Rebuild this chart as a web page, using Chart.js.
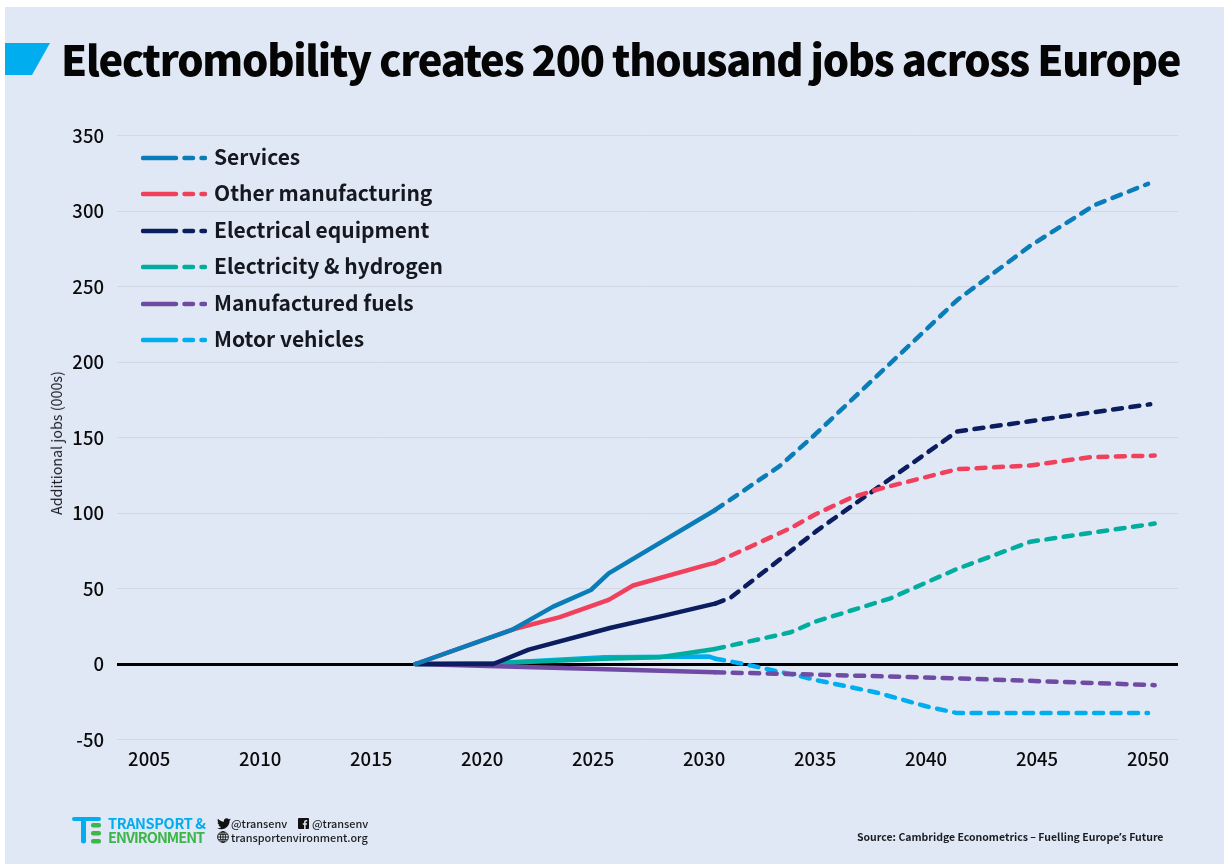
<!DOCTYPE html>
<html>
<head>
<meta charset="utf-8">
<title>Electromobility jobs</title>
<script src="https://cdn.jsdelivr.net/npm/chart.js@4"></script>
<style>
  html, body { margin: 0; padding: 0; background: #fff; }
  #page { position: relative; width: 1224px; height: 864px; overflow: hidden; font-family: "Noto Sans CJK SC", "Noto Sans", sans-serif; color: #0b0b0b; }
  #panel { position: absolute; left: 5px; top: 7px; right: 0; bottom: 0; background: #e1e8f5; }
  #jobs { position: absolute; left: 0; top: 0; }
  #flag { position: absolute; left: 5px; top: 43px; }
  h1 { position: absolute; left: 61px; top: 28px; margin: 0; font-size: 41.5px; line-height: 60px; font-weight: 900; letter-spacing: -1.25px; white-space: nowrap; color: #050505; }
  #legend { position: absolute; left: 141px; top: 139px; }
  .row { position: absolute; left: 0; height: 36px; width: 340px; }
  .row svg { position: absolute; left: 0; top: 16px; }
  .row span { position: absolute; left: 73px; top: -1px; font-size: 21px; line-height: 36px; font-weight: 700; color: #16181f; white-space: nowrap; }
  #ytitle { position: absolute; left: 56px; top: 443px; transform: translate(-50%, -50%) rotate(-90deg); font-size: 14.3px; line-height: 18px; color: #1a1c22; white-space: nowrap; }
  .foot { position: absolute; white-space: nowrap; }
  .social { font-size: 10.9px; line-height: 14px; font-weight: 500; color: #1a1c22; }
  .brand { font-size: 14.5px; line-height: 15px; font-weight: 700; letter-spacing: -.35px; }
</style>
</head>
<body>
<div id="page">
  <div id="panel"></div>
  <canvas id="jobs" width="1224" height="864"></canvas>
  <svg id="flag" width="46" height="32"><polygon points="0,0 45,0 27,32 0,32" fill="#00aeef"/></svg>
  <h1>Electromobility creates 200 thousand jobs across Europe</h1>
  <div id="legend"></div>
  <div id="ytitle">Additional jobs (000s)</div>

  <svg class="foot" style="left:72px;top:816px" width="30" height="30">
    <rect x="0" y="1" width="29" height="4" rx="2" fill="#00aeef"/>
    <rect x="9" y="1" width="5" height="26.500" rx="2.500" fill="#00aeef"/>
    <rect x="19" y="7" width="10" height="4.500" rx="2" fill="#3cb54a"/>
    <rect x="19" y="15" width="10" height="4.500" rx="2" fill="#3cb54a"/>
    <rect x="19" y="23" width="10" height="4.500" rx="2" fill="#3cb54a"/>
  </svg>
  <div class="foot brand" style="left:108px;top:815px;color:#00aeef">TRANSPORT &amp;</div>
  <div class="foot brand" style="left:108px;top:829px;color:#3cb54a;letter-spacing:-.95px">ENVIRONMENT</div>

  <svg class="foot" style="left:217px;top:818px" width="14" height="12" viewBox="0 0 24 20">
    <path fill="#111" d="M24 2.4c-.9.4-1.8.7-2.8.8 1-.6 1.8-1.6 2.2-2.7-1 .6-2 1-3.1 1.2C19.3.7 18 0 16.6 0c-2.7 0-4.9 2.2-4.9 4.9 0 .4 0 .8.1 1.1C7.700 5.800 4.100 3.900 1.700.9c-.4.700-.7 1.600-.7 2.500 0 1.700.9 3.200 2.200 4.100-.8 0-1.600-.2-2.200-.6v.1c0 2.400 1.700 4.400 3.900 4.800-.7.200-1.500.2-2.200.1.600 2 2.400 3.400 4.600 3.400-1.700 1.300-3.800 2.100-6.100 2.100-.4 0-.8 0-1.200-.1C2.200 18.200 4.800 19 7.500 19c9.100 0 14-7.500 14-14v-.6c1-.7 1.800-1.600 2.500-2z"/>
  </svg>
  <div class="foot social" style="left:231px;top:816px">@transenv</div>
  <svg class="foot" style="left:298px;top:818px" width="11" height="11" viewBox="0 0 11 11">
    <rect width="11" height="11" rx="1" fill="#111"/>
    <path fill="#e1e8f5" d="M7.600 11V6.800h1.300l.2-1.600H7.600v-1c0-.5.100-.8.800-.8h.8V2c-.2 0-.6-.1-1.100-.1-1.200 0-2 .7-2 2v1.300H4.800v1.600h1.300V11z"/>
  </svg>
  <div class="foot social" style="left:312px;top:816px">@transenv</div>
  <svg class="foot" style="left:217px;top:831px" width="12" height="12" viewBox="0 0 12 12" fill="none" stroke="#111" stroke-width=".9">
    <circle cx="6" cy="6" r="5.400"/><ellipse cx="6" cy="6" rx="2.500" ry="5.400"/>
    <path d="M.6 6h10.800M1.400 3.300h9.200M1.400 8.700h9.200M6 .6v10.800"/>
  </svg>
  <div class="foot social" style="left:231px;top:830px">transportenvironment.org</div>
  <div class="foot" style="left:857px;top:829px;font-size:10.5px;line-height:16px;font-weight:700;color:#1a1c22">Source: Cambridge Econometrics – Fuelling Europe<span style="font-family:'Noto Sans'">’</span>s Future</div>
</div>
<script>
// Additional jobs (thousands); measured years carry on into the projected ones
const yTicks = [-50, 0, 50, 100, 150, 200, 250, 300, 350];
const xTicks = [2005, 2010, 2015, 2020, 2025, 2030, 2035, 2040, 2045, 2050];

const servicesYears = [2017, 2021.4, 2023.2, 2024.9, 2025.7, 2030.5];
const servicesJobs = [0, 23, 38, 49, 60, 102];
const servicesFutureYears = [2030.5, 2033.4, 2035, 2041.4, 2044.7, 2047.6, 2050];
const servicesFutureJobs = [102, 131, 152, 241, 277, 304, 318];

const otherYears = [2017, 2021.4, 2023.5, 2025.7, 2026.8, 2030.2, 2030.5];
const otherJobs = [0, 23, 31, 42.5, 52, 66, 67];
const otherFutureYears = [2030.5, 2033.9, 2035, 2036.6, 2037.9, 2041.4, 2044.7, 2047.4, 2050.3];
const otherFutureJobs = [67, 90, 99, 110, 116, 129, 131.5, 137, 138];

const electricalYears = [2017, 2020.5, 2022.1, 2025.8, 2028.2, 2030.2, 2030.5];
const electricalJobs = [0, 0, 9.5, 24, 32, 39, 40];
const electricalFutureYears = [2030.5, 2031.2, 2035.1, 2041.4, 2050.1];
const electricalFutureJobs = [40, 44, 88.5, 154, 172];

const hydrogenYears = [2017, 2020.5, 2025.5, 2028, 2030.5];
const hydrogenJobs = [0, 0.5, 3.5, 4.5, 10];
const hydrogenFutureYears = [2030.5, 2033.9, 2035, 2038.4, 2041.4, 2044.7, 2050.3];
const hydrogenFutureJobs = [10, 21, 28, 43.5, 63, 81, 93];

const fuelsYears = [2017, 2030.5];
const fuelsJobs = [0, -5.5];
const fuelsFutureYears = [2030.5, 2035, 2041.4, 2050.3];
const fuelsFutureJobs = [-5.5, -7, -9.500, -14];

const vehiclesYears = [2017, 2020.5, 2025.5, 2030.2, 2030.5];
const vehiclesJobs = [0, 0.5, 4.5, 5, 3.5];
const vehiclesFutureYears = [2030.5, 2031.8, 2034.3, 2035, 2037.8, 2040, 2041.4, 2050];
const vehiclesFutureJobs = [3.5, 0, -8, -10.5, -19, -28, -32.5, -32.5];

const names = ['Services', 'Other manufacturing', 'Electrical equipment', 'Electricity & hydrogen', 'Manufactured fuels', 'Motor vehicles'];
const colours = ['#0a7db8', '#f0405c', '#0b1d5e', '#00ad9f', '#6f4ba3', '#00aeef'];

const pts = (xs, ys) => xs.map((x, i) => ({ x: x, y: ys[i] }));

const solid = (i, xs, ys) => ({
  label: names[i], data: pts(xs, ys), borderColor: colours[i], borderWidth: 4.5,
  pointRadius: 0, tension: 0, borderCapStyle: 'round', borderJoinStyle: 'round'
});
const dashed = (i, xs, ys) => ({
  label: names[i] + ' (projected)', data: pts(xs, ys), borderColor: colours[i], borderWidth: 4.5,
  pointRadius: 0, tension: 0, borderDash: [9, 8.5], borderCapStyle: 'round', borderJoinStyle: 'round'
});

// Chart.js paints the first dataset last, so the top line comes first here
const datasets = [
  solid(0, servicesYears, servicesJobs),
  solid(1, otherYears, otherJobs),
  solid(2, electricalYears, electricalJobs),
  solid(4, fuelsYears, fuelsJobs),
  solid(3, hydrogenYears, hydrogenJobs),
  solid(5, vehiclesYears, vehiclesJobs),
  dashed(0, servicesFutureYears, servicesFutureJobs),
  dashed(1, otherFutureYears, otherFutureJobs),
  dashed(2, electricalFutureYears, electricalFutureJobs),
  dashed(3, hydrogenFutureYears, hydrogenFutureJobs),
  dashed(4, fuelsFutureYears, fuelsFutureJobs),
  dashed(5, vehiclesFutureYears, vehiclesFutureJobs)
];

const noMargins = (scale) => {
  scale.paddingTop = 0; scale.paddingBottom = 0;
  scale.paddingLeft = 0; scale.paddingRight = 0;
};

new Chart(document.getElementById('jobs'), {
  type: 'line',
  data: { datasets: datasets },
  options: {
    responsive: false,
    animation: false,
    layout: { padding: { top: 135.5, left: 0, right: 46, bottom: 84.5 } },
    plugins: { legend: { display: false }, tooltip: { enabled: false } },
    scales: {
      x: {
        type: 'linear', min: 2003.55, max: 2051.35,
        grid: { display: false },
        border: { display: false },
        afterBuildTicks: (scale) => { scale.ticks = xTicks.map(v => ({ value: v })); },
        afterFit: (scale) => { scale.height = 40; noMargins(scale); },
        ticks: {
          autoSkip: false, maxRotation: 0, padding: 0, color: '#0b0b0b',
          font: { family: '"Noto Sans CJK SC"', size: 18.5, weight: 500 },
          callback: (v) => String(v)
        }
      },
      y: {
        min: -50, max: 350,
        border: { display: false },
        grid: {
          drawTicks: false,
          color: (c) => c.tick.value === 0 ? '#000' : '#d2d8e3',
          lineWidth: (c) => c.tick.value === 0 ? 3 : 1
        },
        afterBuildTicks: (scale) => { scale.ticks = yTicks.map(v => ({ value: v })); },
        afterFit: (scale) => { scale.width = 117; noMargins(scale); },
        ticks: {
          padding: 13, color: '#0b0b0b',
          font: { family: '"Noto Sans CJK SC"', size: 18.5, weight: 500 },
          callback: (v) => String(v)
        }
      }
    }
  }
});

// key: a solid stroke then dashes, one row per sector
const legend = document.getElementById('legend');
names.forEach((name, i) => {
  const row = document.createElement('div');
  row.className = 'row';
  row.style.top = (i * 36.4) + 'px';
  row.innerHTML = '<svg width="66" height="6">' +
    '<line x1="2" y1="3" x2="35" y2="3" stroke="' + colours[i] + '" stroke-width="4.5" stroke-linecap="round"/>' +
    '<line x1="43.5" y1="3" x2="52" y2="3" stroke="' + colours[i] + '" stroke-width="4.5" stroke-linecap="round"/>' +
    '<line x1="60.5" y1="3" x2="64" y2="3" stroke="' + colours[i] + '" stroke-width="4.5" stroke-linecap="round"/>' +
    '</svg>';
  const label = document.createElement('span');
  label.textContent = name;
  row.appendChild(label);
  legend.appendChild(row);
});
</script>
</body>
</html>
